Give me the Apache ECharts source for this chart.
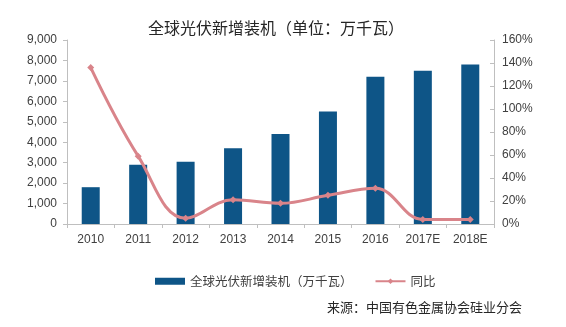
<!DOCTYPE html>
<html><head><meta charset="utf-8">
<script src="https://cdn.jsdelivr.net/npm/echarts@6/dist/echarts.min.js"></script>
<style>html,body{margin:0;padding:0;background:#fff}#c{width:566px;height:327px}</style>
</head><body><div id="c"></div>
<script>
const categories = ['2010','2011','2012','2013','2014','2015','2016','2017E','2018E'];
const installed = [1800, 2900, 3050, 3700, 4400, 5500, 7200, 7500, 7800];
const yoy = [136, 59, 5, 21, 18, 25, 31, 4, 4];
const leftTicks = [0, 9000, 1000];
const rightTicks = [0, 160, 20];

const chart = echarts.init(document.getElementById('c'));
const labelFont = {color:'#404040', fontSize:12, fontFamily:'Liberation Sans, Arial, sans-serif'};
chart.setOption({
  animation:false,
  title:[
    {text:'全球光伏新增装机（单位：万千瓦）', left:271, top:15, textAlign:'center',
     textStyle:{fontSize:16, fontWeight:'normal', color:'#262626', fontFamily:'Noto Sans CJK SC'}},
    {text:'来源：中国有色金属协会硅业分会', left:322, top:296,
     textStyle:{fontSize:13, fontWeight:'normal', color:'#262626', fontFamily:'Noto Sans CJK SC'}}
  ],
  grid:{left:67, right:72, top:40, bottom:103},
  legend:{left:150, top:270, itemGap:22, itemWidth:30, itemHeight:7,
    textStyle:{fontSize:12.5, color:'#404040', fontFamily:'Noto Sans CJK SC'},
    data:[{name:'全球光伏新增装机（万千瓦）', icon:'rect'}, {name:'同比'}]},
  xAxis:{type:'category', data:categories,
    axisLine:{lineStyle:{color:'#bfbfbf'}},
    axisTick:{show:true, lineStyle:{color:'#bfbfbf'}, length:4},
    axisLabel:Object.assign({margin:10}, labelFont)},
  yAxis:[
    {type:'value', min:leftTicks[0], max:leftTicks[1], interval:leftTicks[2],
     axisLine:{show:true, lineStyle:{color:'#bfbfbf'}},
     axisTick:{show:true, length:4, lineStyle:{color:'#bfbfbf'}},
     splitLine:{show:false},
     axisLabel:Object.assign({margin:10, formatter:v=>v.toLocaleString('en-US')}, labelFont)},
    {type:'value', min:rightTicks[0], max:rightTicks[1], interval:rightTicks[2],
     axisLine:{show:true, lineStyle:{color:'#bfbfbf'}},
     axisTick:{show:true, inside:true, length:4, lineStyle:{color:'#bfbfbf'}},
     splitLine:{show:false},
     axisLabel:Object.assign({margin:8, formatter:'{value}%'}, labelFont)}
  ],
  series:[
    {name:'全球光伏新增装机（万千瓦）', type:'bar', data:installed, barWidth:18,
     itemStyle:{color:'#0e5587'}},
    {name:'同比', type:'line', yAxisIndex:1, data:yoy, smooth:0.4,
     symbol:'diamond', symbolSize:7,
     lineStyle:{color:'#d9848a', width:3},
     itemStyle:{color:'#d9848a'}}
  ]
});
</script></body></html>
